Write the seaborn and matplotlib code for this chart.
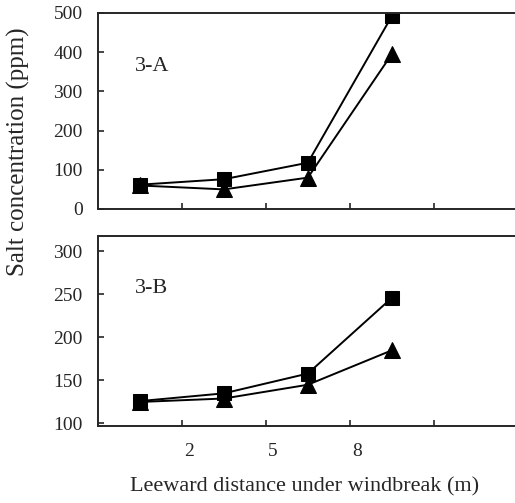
import numpy as np
import pandas as pd
import matplotlib
matplotlib.use('Agg')
import matplotlib.pyplot as plt
import matplotlib.transforms as mtransforms
import seaborn as sns

# data (4 sampling points along the windbreak)
points = [1, 2, 3, 4]
xlabels = ['2', '5', '8']

a_square = [62, 76, 118, 492]
a_triangle = [60, 50, 80, 395]
b_square = [126, 135, 158, 246]
b_triangle = [125, 129, 145, 185]

sns.set_style('ticks')
plt.rcParams['font.family'] = ['Liberation Serif', 'DejaVu Serif']

fig = plt.figure(figsize=(5.15, 5.03), dpi=100)
ax1 = fig.add_axes([0.190, 0.5845, 0.8155, 0.3897])
ax2 = fig.add_axes([0.190, 0.153, 0.8155, 0.378])

pos = np.array(points) - 0.5


def draw(ax, sq, tri, ylim, yticks, tag):
    df_t = pd.DataFrame({'pos': pos, 'ppm': tri})
    df_s = pd.DataFrame({'pos': pos, 'ppm': sq})
    sns.lineplot(data=df_t, x='pos', y='ppm', ax=ax, color='black', lw=1.4,
                 marker='^', markersize=11, markeredgecolor='black')
    sns.lineplot(data=df_s, x='pos', y='ppm', ax=ax, color='black', lw=1.4,
                 marker='s', markersize=9.5, markeredgecolor='black')
    ax.set_xlim(0, 5)
    ax.set_ylim(*ylim)
    ax.set_yticks(yticks)
    ax.set_xticks([1, 2, 3, 4])
    ax.tick_params(direction='in', length=4, width=1.2, labelsize=14)
    ax.tick_params(axis='y', pad=11)
    for s in ['left', 'bottom', 'top']:
        ax.spines[s].set_linewidth(1.4)
    ax.spines['right'].set_visible(False)
    ax.set_xlabel('')
    ax.set_ylabel('')
    ax.text(0.088, 0.725, tag, transform=ax.transAxes, fontsize=16, va='center')


draw(ax1, a_square, a_triangle, (0, 500), [0, 100, 200, 300, 400, 500], '3-A')
ax1.set_xticklabels([])

draw(ax2, b_square, b_triangle, (97, 318), [100, 150, 200, 250, 300], '3-B')
ax2.set_xticklabels(xlabels + [''])
ax2.tick_params(axis='x', pad=12)
shift = mtransforms.ScaledTranslation(0.07, 0, fig.dpi_scale_trans)
for lab in ax2.get_xticklabels():
    lab.set_transform(lab.get_transform() + shift)

fig.text(0.592, 0.032, 'Leeward distance under windbreak (m)', ha='center', va='center', fontsize=16)
fig.text(0.035, 0.698, 'Salt concentration (ppm)', rotation=90, va='center', ha='center', fontsize=18)

fig.savefig('out.png', dpi=100)
